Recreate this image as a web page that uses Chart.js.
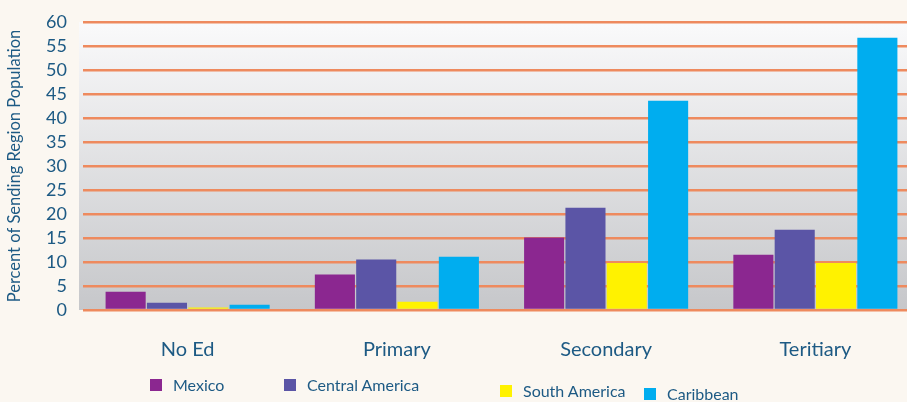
<!DOCTYPE html>
<html>
<head>
<meta charset="utf-8">
<script src="https://cdn.jsdelivr.net/npm/chart.js@4/dist/chart.umd.min.js"></script>
<style>
  html, body { margin: 0; padding: 0; overflow: hidden; }
  body { width: 907px; height: 402px; background: #fbf7f1; position: relative; overflow: hidden; font-family: Lato, "Open Sans", sans-serif; }
  #wrap { position: absolute; left: 0; top: 0; width: 907px; height: 402px; overflow: hidden; }
  .leg { position: absolute; color: #1d5a84; font-size: 16px; white-space: nowrap; }
  .leg i { position: absolute; width: 12px; height: 12px; left: 0; top: 4px; }
  .leg span { position: absolute; left: 23px; top: 0; }
</style>
</head>
<body>
<!-- the slide crops the plot at the right edge, so the canvas runs a bit past the window -->
<div id="wrap"><canvas id="chart" width="920" height="402"></canvas></div>
<script>
const categories = ["No Ed", "Primary", "Secondary", "Teritiary"];
const seriesNames = ["Mexico", "Central America", "South America", "Caribbean"];
const mexico = [3.8, 7.4, 15.1, 11.5];
const centralAmerica = [1.5, 10.5, 21.3, 16.7];
const southAmerica = [0.5, 1.7, 9.8, 9.8];
const caribbean = [1.1, 11.1, 43.6, 56.7];
const yTicks = [0, 5, 10, 15, 20, 25, 30, 35, 40, 45, 50, 55, 60];

const colors = ["#8b2790", "#5b55a6", "#fff200", "#00adef"];
const values = [mexico, centralAmerica, southAmerica, caribbean];
const textColor = "#1d5a84";

// legend placed by hand, like the original slide
const legendPos = [[150, 375], [284, 375], [500, 381], [644, 384]];
seriesNames.forEach((name, i) => {
  const d = document.createElement("div");
  d.className = "leg";
  d.style.left = legendPos[i][0] + "px";
  d.style.top = legendPos[i][1] + "px";
  d.innerHTML = '<i style="background:' + colors[i] + '"></i><span>' + name + '</span>';
  document.body.appendChild(d);
});

const plotBg = {
  id: "plotBg",
  beforeDraw(chart) {
    const { ctx, chartArea: a } = chart;
    const g = ctx.createLinearGradient(0, a.top, 0, a.bottom);
    g.addColorStop(0, "#fafafb");
    g.addColorStop(1, "#c6c7ca");
    ctx.save();
    ctx.fillStyle = g;
    ctx.fillRect(a.left - 4, a.top, a.right - a.left + 4, a.bottom - a.top);
    ctx.restore();
  }
};

new Chart(document.getElementById("chart"), {
  type: "bar",
  data: {
    labels: categories,
    datasets: seriesNames.map((name, i) => ({
      label: name,
      data: values[i],
      backgroundColor: colors[i],
      categoryPercentage: 0.79,
      barPercentage: 0.97
    }))
  },
  options: {
    responsive: false,
    animation: false,
    layout: { padding: { top: 22, right: 0, left: 0, bottom: 0 } },
    plugins: { legend: { display: false }, tooltip: { enabled: false } },
    scales: {
      x: {
        grid: { display: false },
        border: { display: false },
        ticks: { color: textColor, font: { family: "Lato", size: 20 }, padding: 20 },
        afterFit(scale) { scale.height = 92; scale.paddingLeft = 0; scale.paddingRight = 0; }
      },
      y: {
        min: 0,
        max: 60,
        afterBuildTicks(scale) { scale.ticks = yTicks.map(v => ({ value: v })); },
        grid: { color: "#ee8a5e", lineWidth: 2.5, drawTicks: false },
        border: { display: false },
        ticks: { color: textColor, font: { family: "Lato", size: 18 }, padding: 16, autoSkip: false },
        title: {
          display: true,
          text: "Percent of Sending Region Population",
          color: textColor,
          font: { family: "Lato", size: 16.5 },
          padding: { top: 5, bottom: 4 }
        },
        afterFit(scale) { scale.width = 83; scale.paddingTop = 0; scale.paddingBottom = 0; }
      }
    }
  },
  plugins: [plotBg]
});
</script>
</body>
</html>
